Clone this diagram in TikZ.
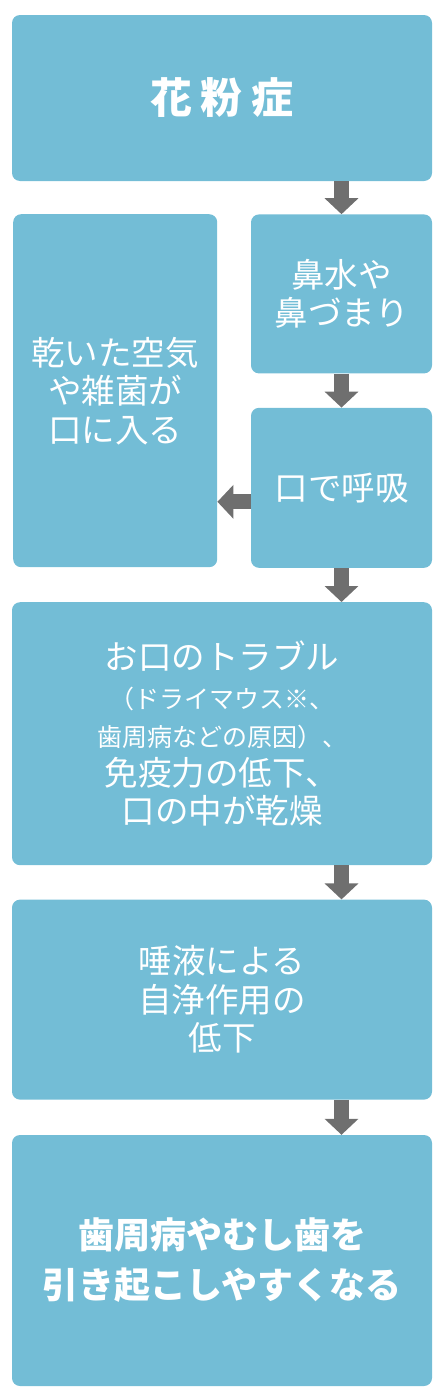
\documentclass[tikz,border=0pt]{standalone}
\usepackage{fontspec}
\setmainfont{Noto Sans CJK JP}
\usepackage{xcolor}
\usetikzlibrary{arrows.meta,positioning,calc}
\definecolor{boxblue}{HTML}{73BDD6}
\definecolor{arrowgray}{HTML}{6F6F6F}

\begin{document}
\begin{tikzpicture}[
    x=1pt, y=-1pt,
    box/.style={rectangle, fill=boxblue, rounded corners=8pt, inner sep=0pt, minimum width=420pt, align=center, text=white, font=\fontsize{33.5}{38.5}\selectfont},
    half_box/.style={box, minimum width=181pt},
    side_box/.style={box, minimum width=204pt},
    line/.style={draw=arrowgray, line width=15pt, -{Triangle[width=33pt,length=16pt]}}
]
\useasboundingbox (0,0) rectangle (444,1400);

% Nodes
\node[box, minimum height=166pt, font=\bfseries\fontsize{42}{50}\selectfont] (pollen) at (222,98) {花\hspace{9pt}粉\hspace{9pt}症};
\node[half_box, minimum height=159pt, anchor=north east] (nose) at ($(pollen.south east)+(0,33)$) {鼻水や\\鼻づまり};
\node[half_box, minimum height=160pt, below=34pt of nose] (mouth) {口で呼吸};
\node[side_box, minimum height=353pt, anchor=north west] (dry) at (13,214) {乾いた空気\\や雑菌が\\口に入る};

\node[box, minimum height=263pt, anchor=north] (trouble) at ($(pollen.center |- mouth.south)+(0,34)$) {お口のトラブル\\{\fontsize{25}{37}\selectfont （ドライマウス※、}\\{\fontsize{25}{37}\selectfont 歯周病などの原因）、}\\免疫力の低下、\\口の中が乾燥};
\node[box, minimum height=200pt, below=34pt of trouble] (saliva) {唾液による\\自浄作用の\\低下};
\node[box, minimum height=251pt, below=35pt of saliva, font=\bfseries\fontsize{36}{50}\selectfont] (result) {歯周病やむし歯を\\引き起こしやすくなる};

% Connections
\path[line] (pollen.south -| nose) -- (nose.north);
\path[line] (nose.south) -- (mouth.north);
\path[line] ([yshift=-14pt]mouth.west) -- ([yshift=-14pt]mouth.west -| dry.east);
\path[line] (mouth.south) -- (mouth.south |- trouble.north);
\path[line] (trouble.south -| nose) -- (saliva.north -| nose);
\path[line] (saliva.south -| nose) -- (result.north -| nose);

\end{tikzpicture}
\end{document}
